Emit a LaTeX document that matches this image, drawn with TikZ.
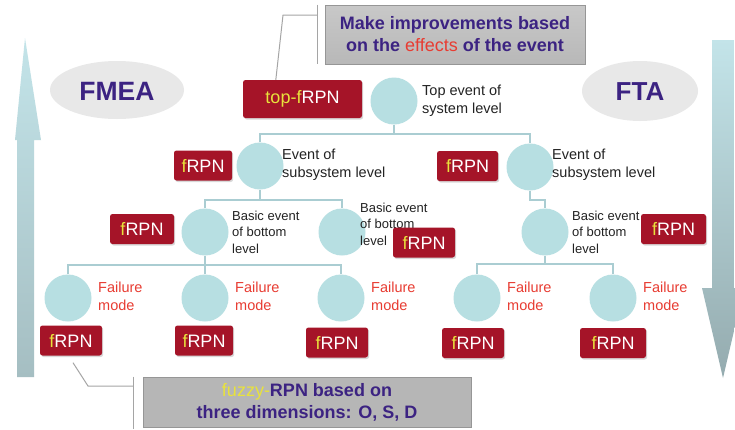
\documentclass[tikz,border=0pt]{standalone}
\usepackage{fontspec}
\setmainfont{Liberation Sans}
\usetikzlibrary{shadows,calc}
\definecolor{purp}{RGB}{60,35,130}
\definecolor{rpnred}{RGB}{165,20,40}
\definecolor{yel}{RGB}{232,226,60}
\definecolor{circ}{RGB}{183,223,226}
\definecolor{linec}{RGB}{170,205,210}
\definecolor{redtxt}{RGB}{232,60,50}
\definecolor{labc}{RGB}{35,35,35}
\definecolor{boxtop}{RGB}{200,200,200}
\definecolor{boxbot}{RGB}{182,182,182}
\definecolor{boxline}{RGB}{150,150,150}
\definecolor{ellc}{RGB}{232,232,232}
\definecolor{brkc}{RGB}{165,165,165}
\definecolor{arrtop}{RGB}{195,228,233}
\definecolor{arrbot}{RGB}{165,190,194}
\begin{document}
\begin{tikzpicture}[x=1pt,y=-1pt,
  conn/.style={draw=linec, line width=1.6pt},
  ev/.style={circle, fill=circ, minimum size=47pt, inner sep=0pt},
  rpnbox/.style={fill=rpnred, rounded corners=2.5pt, text=white,
    font=\fontsize{18}{20}\selectfont, minimum width=62pt, minimum height=30pt,
    inner sep=0pt, drop shadow={shadow xshift=1.2pt, shadow yshift=-1.5pt, opacity=0.3}},
  lab/.style={anchor=west, align=left, inner sep=0pt, text=labc, font=\fontsize{14.5}{18.5}\selectfont},
  blab/.style={anchor=west, align=left, inner sep=0pt, text=labc, font=\fontsize{13}{16.5}\selectfont},
  flab/.style={anchor=west, align=left, inner sep=0pt, text=redtxt, font=\fontsize{14.5}{18}\selectfont},
  brk/.style={draw=brkc, line width=1pt},
  greybox/.style={draw=boxline, line width=0.8pt, align=center, text=purp,
    font=\fontsize{18}{22}\selectfont\bfseries, inner sep=0pt},
  ell/.style={ellipse, fill=ellc, text=purp, inner sep=0pt}
]
\useasboundingbox (0,0) rectangle (735,429);
\clip (0,0) rectangle (735,429);
\fill[white] (0,0) rectangle (735,429);

% side arrows
\shade[top color=arrtop, bottom color=arrbot]
  (17,377) -- (17,140) -- (15,140) -- (25,38) -- (41,140) -- (34,140) -- (34,377) -- cycle;
\shade[top color=arrtop, bottom color=arrbot!90!black]
  (712,40) -- (734,40) -- (734,288) -- (744,288) -- (723,378) -- (702,288) -- (712,288) -- cycle;

% ellipses
\fill[ellc] (117,90) ellipse [x radius=67, y radius=29];
\node[text=purp, font=\fontsize{26.5}{28}\selectfont\bfseries] (fmea) at (117,91) {FMEA};
\fill[ellc] (640,91) ellipse [x radius=58, y radius=30];
\node[text=purp, font=\fontsize{26}{28}\selectfont\bfseries] (fta) at (640,92) {FTA};

% grey boxes
\node[greybox, top color=boxtop, bottom color=boxtop!92!black, minimum width=260pt, minimum height=59pt,
  drop shadow={shadow xshift=1pt, shadow yshift=-1pt, opacity=0.25}] (topbox) at (455,34.5)
  {Make improvements based\\on the \textcolor{redtxt}{\mdseries effects} of the event};
\node[greybox, fill=boxbot, minimum width=328pt, minimum height=50pt] (botbox) at (307,402)
  {\textcolor{yel}{\mdseries fuzzy-}RPN based on\\three dimensions: O, S, D};

% event circles
\node[ev] (top) at (394,101) {};
\node[ev] (subL) at (260,166) {};
\node[ev] (subR) at (530,167) {};
\node[ev] (basL) at (205,232) {};
\node[ev] (basM) at (342,232) {};
\node[ev] (basR) at (545,232) {};
\node[ev] (f1) at (68,298) {};
\node[ev] (f2) at (205,298) {};
\node[ev] (f3) at (341,298) {};
\node[ev] (f4) at (477,298) {};
\node[ev] (f5) at (613,298) {};

% bus levels
\coordinate (b1) at (0,134);
\coordinate (b2) at (0,200);
\coordinate (b3) at (0,265);
\coordinate (b4) at (0,264);

\draw[conn] (top.south) -- (top.south |- b1);
\draw[conn] (subL.north) -- (subL.north |- b1) -- (subR.north |- b1) -- (subR.north);
\draw[conn] (subL.south) -- (subL.south |- b2);
\draw[conn] (basL.north) -- (basL.north |- b2) -- (basM.north |- b2) -- (basM.north);
\draw[conn] (subR.south) -- (subR.south |- b2) -- (basR.north |- b2) -- (basR.north);
\draw[conn] (basL.south) -- (basL.south |- b3);
\draw[conn] (f1.north) -- (f1.north |- b3) -- (f3.north |- b3) -- (f3.north);
\draw[conn] (f2.north) -- (f2.north |- b3);
\draw[conn] (basR.south) -- (basR.south |- b4);
\draw[conn] (f4.north) -- (f4.north |- b4) -- (f5.north |- b4) -- (f5.north);

% labels
\node[lab] (ltop) at (422,101) {Top event of\\system level};
\node[lab] (lsubL) at (282,165) {Event of\\subsystem level};
\node[lab] (lsubR) at (552,165) {Event of\\subsystem level};
\node[blab] (lbasL) at (232,232) {Basic event\\of bottom\\level};
\node[blab] (lbasM) at (360,224) {Basic event\\of bottom\\level};
\node[blab] (lbasR) at (572,232) {Basic event\\of bottom\\level};
\node[flab] (lf1) at (98,296) {Failure\\mode};
\node[flab] (lf2) at (235,296) {Failure\\mode};
\node[flab] (lf3) at (371,296) {Failure\\mode};
\node[flab] (lf4) at (507,296) {Failure\\mode};
\node[flab] (lf5) at (643,296) {Failure\\mode};

% RPN boxes
\node[rpnbox, minimum width=119pt, minimum height=38pt] (toprpn) at (302.5,99)
  {\textcolor{yel}{top-f}RPN};
\node[rpnbox, minimum width=58pt] (rsubL) at (203,165.5) {\textcolor{yel}{f}RPN};
\node[rpnbox, minimum width=61pt] (rsubR) at (467.5,166) {\textcolor{yel}{f}RPN};
\node[rpnbox, minimum width=64pt] (rbasL) at (142,229) {\textcolor{yel}{f}RPN};
\node[rpnbox] (rbasM) at (424,242.5) {\textcolor{yel}{f}RPN};
\node[rpnbox, minimum width=65pt] (rbasR) at (673.5,229) {\textcolor{yel}{f}RPN};
\node[rpnbox] (r1) at (71,340.5) {\textcolor{yel}{f}RPN};
\node[rpnbox, minimum width=58pt] (r2) at (204,340.5) {\textcolor{yel}{f}RPN};
\node[rpnbox] (r3) at (337,342.5) {\textcolor{yel}{f}RPN};
\node[rpnbox] (r4) at (473,343) {\textcolor{yel}{f}RPN};
\node[rpnbox, minimum width=66pt] (r5) at (613,343) {\textcolor{yel}{f}RPN};

% brackets
\coordinate (tb1) at (283,15);
\coordinate (tb2) at (317,15);
\draw[brk] ($(toprpn.north west)+(33,0)$) -- (tb1) -- (tb2);
\draw[brk] (tb2 |- topbox.north) -- (tb2 |- topbox.south);
\coordinate (bb1) at (88,386);
\coordinate (bb2) at (133,386);
\draw[brk] ($(r1.south)+(2,7)$) -- (bb1) -- (bb2);
\draw[brk] (bb2 |- botbox.north) -- (133,429);
\end{tikzpicture}
\end{document}
